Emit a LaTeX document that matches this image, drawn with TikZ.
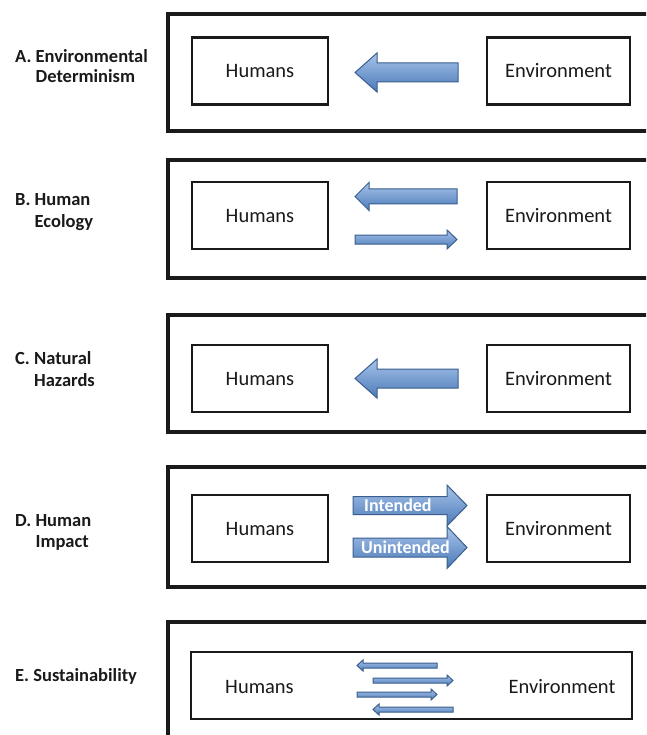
\documentclass[tikz,border=0pt]{standalone}
\usepackage{fontspec}
\setmainfont{Carlito}
\definecolor{arrowline}{HTML}{3A5E8E}
\definecolor{arrowtop}{HTML}{A8C3EA}
\definecolor{arrowbot}{HTML}{4A7AB8}
\definecolor{ink}{HTML}{1A1A1A}
\newcommand\blockL[6]{\draw[blockarrow] (#1,#4) -- (#2,#4-#6) -- (#2,#4-#5) -- (#3,#4-#5) -- (#3,#4+#5) -- (#2,#4+#5) -- (#2,#4+#6) -- cycle;}
\newcommand\blockR[6]{\draw[blockarrow] (#1,#4) -- (#2,#4-#6) -- (#2,#4-#5) -- (#3,#4-#5) -- (#3,#4+#5) -- (#2,#4+#5) -- (#2,#4+#6) -- cycle;}
\begin{document}
\begin{tikzpicture}[x=1pt,y=-1pt,
  outerbox/.style={draw=ink, line width=3.5pt, minimum width=492pt, inner sep=0pt},
  innerbox/.style={draw=ink, line width=2.5pt, minimum height=67pt, inner sep=0pt, font=\fontsize{20.5}{24}\selectfont, text=ink},
  humbox/.style={innerbox, minimum width=136pt},
  envbox/.style={innerbox, minimum width=143pt},
  plaintext/.style={inner sep=0pt, font=\fontsize{20.5}{24}\selectfont, text=ink},
  lbl/.style={anchor=base west, inner sep=0pt, font=\fontsize{18.5}{21}\selectfont\bfseries, text=ink},
  blockarrow/.style={draw=arrowline, line width=1pt, line join=miter, top color=arrowtop, bottom color=arrowbot},
  intext/.style={anchor=west, inner sep=0pt, font=\fontsize{18}{20}\selectfont\bfseries, text=white}
]
\useasboundingbox (0,0) rectangle (646,735);
\fill[white] (0,0) rectangle (646,735);
\clip (0,0) rectangle (646,735);

% ---------- A ----------
\node[outerbox, minimum height=117pt] (oA) at (414,72.5) {};
\node[humbox] (hA) at (260,71) {Humans};
\node[envbox] (eA) at (558.5,71) {Environment};
\blockL{355}{377}{458}{72.5}{9.5}{19.5}
\node[lbl] (lA1) at (15,63) {A. Environmental};
\node[lbl] (lA2) at (15,83) {\hphantom{A. }Determinism};

% ---------- B ----------
\node[outerbox, minimum height=118pt] (oB) at (414,219) {};
\node[humbox] (hB) at (260,215.5) {Humans};
\node[envbox] (eB) at (558.5,215.5) {Environment};
\blockL{355}{369}{457}{196.5}{7.5}{14}
\blockR{457}{447}{355}{239.5}{4.5}{9.5}
\node[lbl] (lB1) at (15,206) {B. Human};
\node[lbl] (lB2) at (15,227) {\hphantom{B. }Ecology};

% ---------- C ----------
\node[outerbox, minimum height=117pt] (oC) at (414,373.5) {};
\node[humbox] (hC) at (260,378.5) {Humans};
\node[envbox] (eC) at (558.5,378.5) {Environment};
\blockL{355}{377}{458}{378.5}{9.5}{19.5}
\node[lbl] (lC1) at (15,364) {C. Natural};
\node[lbl] (lC2) at (15,386) {\hphantom{C. }Hazards};

% ---------- D ----------
\node[outerbox, minimum height=120pt] (oD) at (414,527) {};
\node[humbox] (hD) at (260,528.5) {Humans};
\node[envbox] (eD) at (558.5,528.5) {Environment};
\blockR{467}{447}{353}{505.5}{9}{20.5}
\blockR{467}{447}{353}{547.5}{9.5}{21}
\node[intext] (tI) at (364,505.5) {Intended};
\node[intext] (tU) at (361,547.5) {Unintended};
\node[lbl] (lD1) at (15,526) {D. Human};
\node[lbl] (lD2) at (15,547) {\hphantom{D. }Impact};

% ---------- E ----------
\node[outerbox, minimum height=140pt] (oE) at (414,692) {};
\node[draw=ink, line width=2.5pt, minimum width=441pt, minimum height=67pt, inner sep=0pt] (iE) at (411.5,685.5) {};
\node[plaintext] (hE) at (259.5,687) {Humans};
\node[plaintext] (eE) at (562,687) {Environment};
\blockL{357}{363}{437}{665.5}{2.5}{5.5}
\blockR{453}{447}{373}{680.5}{2.5}{5.5}
\blockR{437}{431}{357}{694.5}{2.5}{5.5}
\blockL{373}{379}{453}{709.5}{2.5}{5.5}
\node[lbl] (lE) at (15,681) {E. Sustainability};
\end{tikzpicture}
\end{document}
